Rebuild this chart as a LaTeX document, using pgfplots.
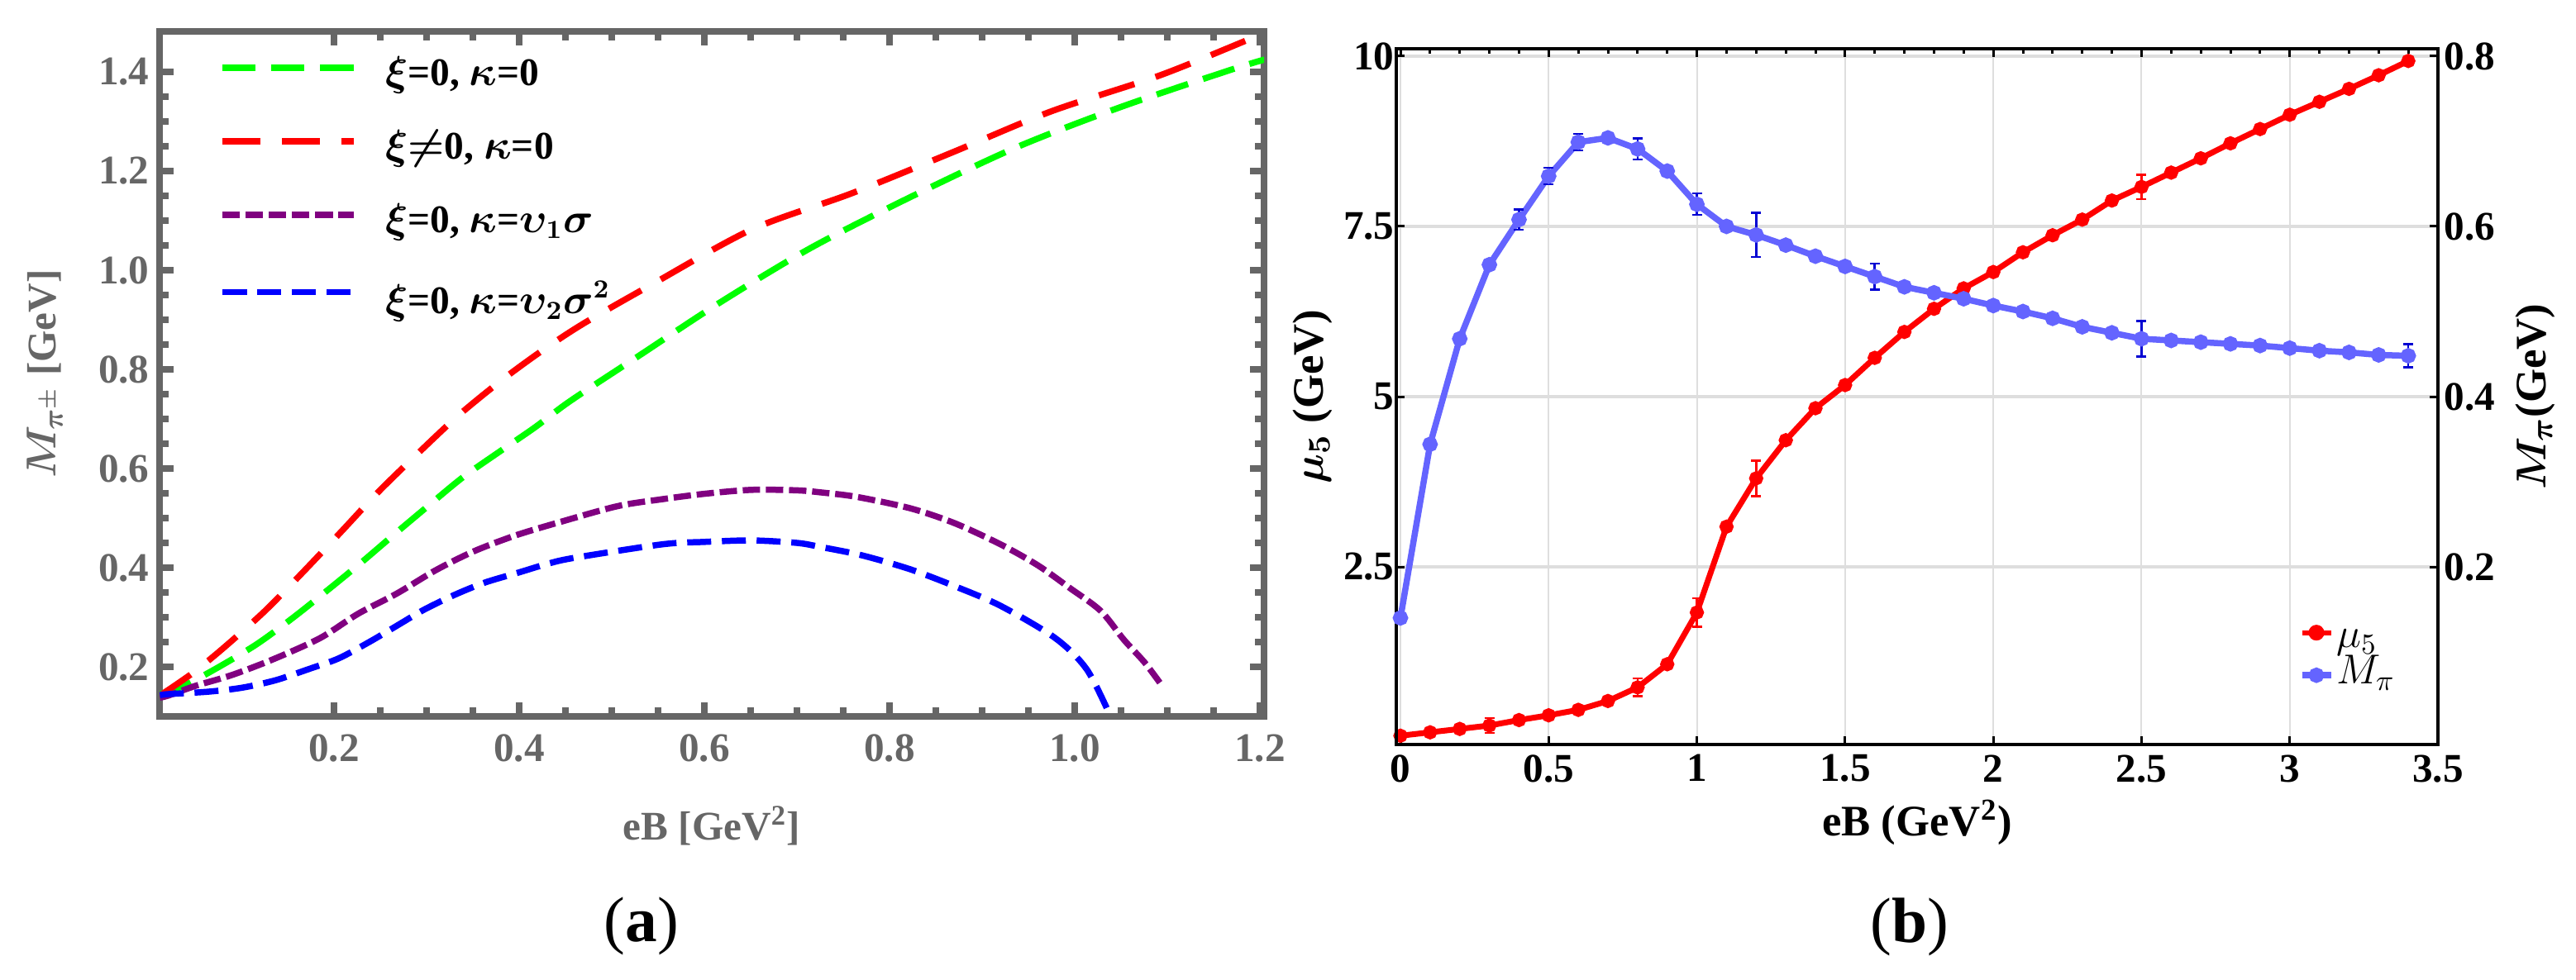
\documentclass[border=0pt]{standalone}
\usepackage{pgfplots}
\pgfplotsset{compat=1.18}
\usepackage{amsmath}
\usepackage{fontspec}
\setmainfont{Liberation Serif}
\definecolor{fgray}{RGB}{102,102,102}
\definecolor{cgreen}{RGB}{0,255,0}
\definecolor{cred}{RGB}{255,0,0}
\definecolor{cpurple}{RGB}{128,0,128}
\definecolor{cblue}{RGB}{0,0,255}
\definecolor{mblue}{RGB}{100,100,255}
\definecolor{eblue}{RGB}{0,0,210}
\definecolor{gridc}{RGB}{222,222,222}
\pgfplotsset{
  legA/.style={legend image code/.code={\draw[mark repeat=2,mark phase=2,##1] plot coordinates {(0mm,0mm) (7.9mm,0mm) (15.8mm,0mm)};}},
  legB/.style={legend image code/.code={\draw[mark repeat=2,mark phase=2,##1] plot coordinates {(-1.75mm,0mm) (0mm,0mm) (1.75mm,0mm)};}},
}
\newcommand{\la}{\fontsize{13.5}{16}\selectfont\bfseries\hspace*{3.0mm}}
\newcommand{\lc}{\fontsize{14.5}{16}\selectfont}
\begin{document}
\begin{tikzpicture}
\path (0,0) rectangle (311.6mm,-118.6mm);
% ---------------- panel (a) ----------------
\begin{axis}[
  at={(19.3mm,-86.7mm)}, anchor=south west,
  scale only axis, width=133.6mm, height=82.9mm,
  xmin=0.0116, xmax=1.2045, ymin=0.1, ymax=1.4817,
  axis line style={fgray, line width=0.8mm},
  tick align=inside,
  xtick={0.2,0.4,0.6,0.8,1.0,1.2}, xticklabels={0.2,0.4,0.6,0.8,1.0,1.2},
  ytick={0.2,0.4,0.6,0.8,1.0,1.2,1.4}, yticklabels={0.2,0.4,0.6,0.8,1.0,1.2,1.4},
  minor x tick num=3, minor y tick num=3,
  major tick length=1.7mm, minor tick length=1.1mm,
  tick style={fgray, line width=0.8mm},
  xticklabel style={font=\bfseries\fontsize{14}{16}\selectfont, text=fgray, yshift=-0.9mm},
  yticklabel style={font=\bfseries\fontsize{14}{16}\selectfont, text=fgray},
  xlabel={{\bfseries eB [GeV$^{\mathbf{2}}$]}},
  ylabel={{\bfseries $\boldsymbol{M_{\pi^{\pm}}}$ [GeV]}},
  x label style={at={(axis description cs:0.5,-0.160)}, anchor=center, font=\fontsize{14}{17}\selectfont, text=fgray},
  y label style={at={(axis description cs:-0.1040,0.5)}, anchor=center, font=\fontsize{14}{17}\selectfont, text=fgray},
  legend style={at={(axis description cs:0.0539,0.996)}, anchor=north west, draw=none, fill=none,
    inner sep=0pt, row sep=0.9mm,
    nodes={text height=5.6mm, text depth=1.4mm, inner sep=0.5mm}},
  legend cell align=left,
  legA,
]
\addplot[cgreen, line width=0.75mm, dash pattern=on 4.0mm off 1.9mm, smooth] coordinates {
(0.012,0.145) (0.038,0.162) (0.074,0.198) (0.116,0.245) (0.155,0.298) (0.192,0.353)
(0.228,0.408) (0.265,0.467) (0.302,0.525) (0.339,0.582) (0.378,0.633) (0.417,0.683)
(0.455,0.736) (0.529,0.827) (0.617,0.935) (0.715,1.045) (0.822,1.147) (0.936,1.247)
(1.048,1.328) (1.165,1.402) (1.205,1.425)};
\addlegendentry{{\la $\boldsymbol{\xi}$=0, $\boldsymbol{\kappa}$=0}}
\addplot[cred, line width=0.75mm, dash pattern=on 4.5mm off 2.7mm, smooth] coordinates {
(0.012,0.142) (0.047,0.187) (0.080,0.237) (0.125,0.312) (0.167,0.392) (0.208,0.473)
(0.248,0.553) (0.292,0.633) (0.335,0.708) (0.381,0.778) (0.425,0.838) (0.47,0.893)
(0.544,0.972) (0.651,1.082) (0.759,1.155) (0.867,1.237) (0.974,1.32) (1.092,1.393)
(1.19,1.467) (1.205,1.478)};
\addlegendentry{{\la $\boldsymbol{\xi}$$\boldsymbol{\neq}$0, $\boldsymbol{\kappa}$=0}}
\addplot[cpurple, line width=0.75mm, dash pattern=on 2.1mm off 0.7mm, smooth] coordinates {
(0.012,0.138) (0.021,0.142) (0.051,0.162) (0.089,0.183) (0.134,0.215) (0.185,0.258)
(0.226,0.307) (0.268,0.348) (0.31,0.395) (0.351,0.433) (0.396,0.465) (0.444,0.492)
(0.506,0.524) (0.554,0.538) (0.60,0.549) (0.651,0.557) (0.70,0.556) (0.725,0.552)
(0.764,0.543) (0.822,0.52) (0.87,0.49) (0.92,0.447) (0.96,0.405) (0.994,0.36)
(1.028,0.313) (1.053,0.255) (1.075,0.21) (1.092,0.168)};
\addlegendentry{{\la $\boldsymbol{\xi}$=0, $\boldsymbol{\kappa}$=$\boldsymbol{\upsilon_1\sigma}$}}
\addplot[cblue, line width=0.75mm, dash pattern=on 2.9mm off 1.3mm, smooth] coordinates {
(0.012,0.143) (0.021,0.145) (0.065,0.15) (0.101,0.158) (0.137,0.173) (0.172,0.195)
(0.205,0.217) (0.238,0.25) (0.268,0.283) (0.297,0.315) (0.33,0.345) (0.363,0.37)
(0.399,0.39) (0.431,0.408) (0.46,0.42) (0.554,0.447) (0.60,0.452) (0.651,0.455)
(0.70,0.45) (0.725,0.442) (0.77,0.425) (0.822,0.397) (0.87,0.363) (0.92,0.323)
(0.979,0.258) (1.013,0.195) (1.038,0.103)};
\addlegendentry[text height=6.5mm]{{\la $\boldsymbol{\xi}$=0, $\boldsymbol{\kappa}$=$\boldsymbol{\upsilon_2\sigma^2}$}}
\end{axis}
% ---------------- panel (b), left axis ----------------
\begin{axis}[
  at={(168.9mm,-90.1mm)}, anchor=south west,
  scale only axis, width=126mm, height=84.2mm,
  xmin=-0.014, xmax=3.5, ymin=-0.109, ymax=10.109,
  axis line style={black, line width=0.4mm},
  xtick={0,0.5,1,1.5,2,2.5,3,3.5}, xticklabels={0,0.5,1,1.5,2,2.5,3,3.5},
  ytick={2.5,5,7.5,10}, yticklabels={2.5,5,7.5,10},
  xtick pos=bottom, ytick pos=left, tick align=inside,
  major tick length=1mm,
  tick style={black, line width=0.3mm},
  grid=major,
  x grid style={gridc, line width=0.2mm},
  y grid style={gridc, line width=0.4mm},
  xticklabel style={font=\bfseries\fontsize{14}{16}\selectfont},
  yticklabel style={font=\bfseries\fontsize{14}{16}\selectfont, xshift=1mm},
  xlabel={{\bfseries eB (GeV$^{\mathbf{2}}$)}},
  ylabel={{\bfseries $\boldsymbol{\mu_5}$ (GeV)}},
  x label style={at={(axis description cs:0.5,-0.112)}, anchor=center, font=\fontsize{15}{17}\selectfont},
  y label style={at={(axis description cs:-0.080,0.5)}, anchor=center, font=\fontsize{15}{17}\selectfont},
]
\addplot[cred, line width=0.7mm, mark=*, mark size=0.5mm] table {
x y
0 0.02
0.1 0.07
0.2 0.12
0.3 0.17
0.4 0.25
0.5 0.32
0.6 0.40
0.7 0.53
0.8 0.73
0.9 1.07
1.0 1.83
1.1 3.09
1.2 3.80
1.3 4.36
1.4 4.83
1.5 5.17
1.6 5.57
1.7 5.95
1.8 6.29
1.9 6.59
2.0 6.83
2.1 7.12
2.2 7.37
2.3 7.60
2.4 7.88
2.5 8.08
2.6 8.29
2.7 8.50
2.8 8.72
2.9 8.93
3.0 9.14
3.1 9.33
3.2 9.52
3.3 9.72
3.4 9.93
};
\addplot[draw=none, mark=none, forget plot, error bars/.cd, y dir=both, y explicit,
  error bar style={draw=cred, solid, line width=0.25mm},
  error mark options={draw=cred, solid, rotate=90, mark size=0.6mm, line width=0.25mm}]
  table[x=x, y=y, y error=e] {
x y e
0.3 0.17 0.11
0.8 0.73 0.13
1.0 1.83 0.21
1.2 3.80 0.26
2.5 8.08 0.18
};
\end{axis}
% ---------------- panel (b), right axis ----------------
\begin{axis}[
  at={(168.9mm,-90.1mm)}, anchor=south west,
  scale only axis, width=126mm, height=84.2mm,
  xmin=-0.014, xmax=3.5, ymin=-0.00872, ymax=0.80872,
  axis line style={black, line width=0.4mm},
  xtick={0,0.5,1,1.5,2,2.5,3,3.5}, xticklabels={},
  minor x tick num=4,
  ytick={0.2,0.4,0.6,0.8}, yticklabels={0.2,0.4,0.6,0.8},
  xtick pos=top, ytick pos=right, yticklabel pos=right, tick align=inside,
  major tick length=1mm, minor tick length=0.6mm,
  tick style={black, line width=0.3mm},
  yticklabel style={font=\bfseries\fontsize{14}{16}\selectfont, xshift=-0.5mm},
  ylabel={{\bfseries $\boldsymbol{M_\pi}$(GeV)}},
  y label style={at={(axis description cs:1.0937,0.5)}, anchor=center, font=\fontsize{15}{17}\selectfont},
  legend style={at={(axis description cs:0.8659,0.1954)}, anchor=north west, draw=none, fill=none,
    inner sep=0pt, row sep=-0.25mm,
    nodes={text height=3.3mm, text depth=1.2mm, inner sep=0.3mm}},
  legend cell align=left,
  legB,
]
\addlegendimage{cred, line width=0.6mm, mark=*, mark size=0.65mm}
\addlegendentry[text height=4.35mm, text depth=0.75mm]{{\lc $\mu_5$}}
\addplot[mblue, line width=0.75mm, mark=*, mark size=0.55mm] table {
x M
0 0.140
0.1 0.344
0.2 0.468
0.3 0.555
0.4 0.608
0.5 0.659
0.6 0.699
0.7 0.704
0.8 0.691
0.9 0.665
1.0 0.626
1.1 0.600
1.2 0.590
1.3 0.578
1.4 0.565
1.5 0.553
1.6 0.541
1.7 0.529
1.8 0.522
1.9 0.515
2.0 0.507
2.1 0.500
2.2 0.492
2.3 0.482
2.4 0.475
2.5 0.468
2.6 0.466
2.7 0.464
2.8 0.462
2.9 0.460
3.0 0.457
3.1 0.454
3.2 0.452
3.3 0.449
3.4 0.448
};
\addlegendentry{{\lc $M_\pi$}}
\addplot[draw=none, mark=none, forget plot, error bars/.cd, y dir=both, y explicit,
  error bar style={draw=eblue, solid, line width=0.25mm},
  error mark options={draw=eblue, solid, rotate=90, mark size=0.6mm, line width=0.25mm}]
  table[x=x, y=y, y error=e] {
x y e
0.4 0.608 0.0117
0.5 0.659 0.0097
0.6 0.699 0.0097
0.8 0.691 0.0126
1.0 0.626 0.0126
1.2 0.590 0.026
1.6 0.541 0.0155
2.5 0.468 0.021
3.4 0.448 0.0136
};
\end{axis}
\node[font=\fontsize{22}{26}\selectfont] at (77.6mm,-112.1mm) {(\textbf{a})};
\node[font=\fontsize{22}{26}\selectfont] at (231.0mm,-112.2mm) {(\textbf{b})};
\end{tikzpicture}
\end{document}
